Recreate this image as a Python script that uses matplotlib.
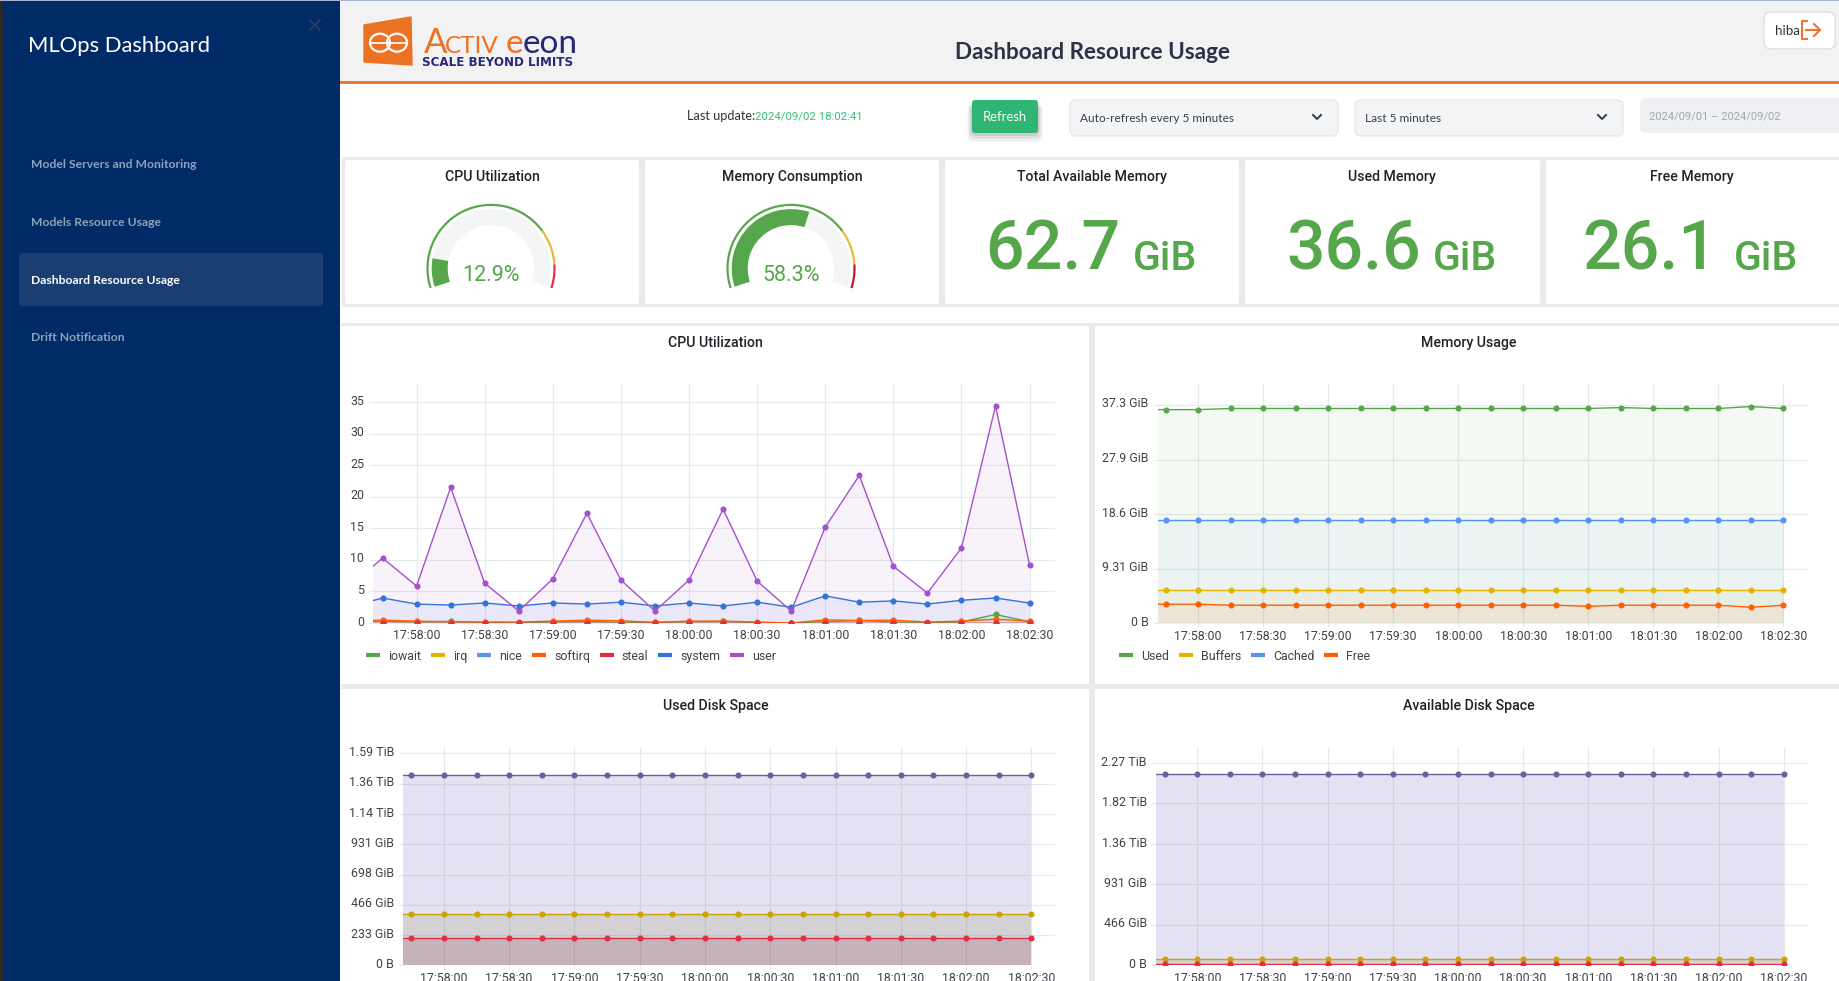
"""MLOps dashboard screenshot: resource usage page, drawn with matplotlib."""
import matplotlib
matplotlib.use("Agg")
import matplotlib.pyplot as plt
import numpy as np
from matplotlib.lines import Line2D
from matplotlib.patches import Ellipse, FancyBboxPatch, Polygon, Rectangle, Wedge
from matplotlib.transforms import ScaledTranslation

W, H = 1839, 981
UI_FONT = "Lato"
PANEL_FONT = "Roboto"

# seconds relative to 17:58:00, first sample sits left of the visible range
seconds = np.arange(-30, 285, 15)
time_ticks = np.arange(0, 285, 30)
time_labels = ["17:58:00", "17:58:30", "17:59:00", "17:59:30", "18:00:00",
               "18:00:30", "18:01:00", "18:01:30", "18:02:00", "18:02:30"]

cpu_iowait = [0.2, 0.3, 0.15, 0.25, 0.1, 0.05, 0.15, 0.25, 0.1, 0.1, 0.2, 0.25, 0.05, 0.0, 0.2, 0.4, 0.15, 0.05, 0.15, 1.35, 0.2]
cpu_irq = [0.0] * 21
cpu_nice = [0.0] * 21
cpu_softirq = [0.3, 0.45, 0.3, 0.2, 0.15, 0.15, 0.3, 0.45, 0.35, 0.1, 0.3, 0.3, 0.15, 0.0, 0.5, 0.4, 0.45, 0.15, 0.3, 0.6, 0.3]
cpu_steal = [0.0] * 21
cpu_system = [2.5, 3.96, 3.0, 2.85, 3.17, 2.7, 3.17, 3.0, 3.3, 2.7, 3.17, 2.7, 3.3, 2.5, 4.3, 3.3, 3.5, 3.0, 3.6, 3.96, 3.17]
cpu_user = [5.6, 10.3, 5.86, 21.5, 6.3, 1.9, 7.0, 17.4, 6.8, 1.9, 6.8, 18.05, 6.65, 1.9, 15.2, 23.4, 9.0, 4.75, 11.9, 34.4, 9.2]
cpu_ticks = [0, 5, 10, 15, 20, 25, 30, 35]
cpu_tick_labels = ["0", "5", "10", "15", "20", "25", "30", "35"]

mem_used = [36.5, 36.5, 36.5, 36.7, 36.7, 36.7, 36.7, 36.7, 36.7, 36.7, 36.7, 36.7, 36.7, 36.7, 36.7, 36.85, 36.7, 36.7, 36.7, 37.03, 36.7]
mem_buffers = [5.66] * 21
mem_cached = [17.66] * 21
mem_free = [3.26, 3.26, 3.26, 3.09, 3.09, 3.09, 3.09, 3.09, 3.09, 3.09, 3.09, 3.09, 3.09, 3.09, 2.91, 3.09, 3.09, 3.09, 3.09, 2.74, 3.09]
mem_ticks = [0, 9.31, 18.6, 27.9, 37.3]
mem_tick_labels = ["0 B", "9.31 GiB", "18.6 GiB", "27.9 GiB", "37.3 GiB"]

used_disk_a = [1462] * 21
used_disk_b = [392] * 21
used_disk_c = [208] * 21
used_ticks = [0, 233, 466, 698, 931, 1164, 1396, 1630]
used_tick_labels = ["0 B", "233 GiB", "466 GiB", "698 GiB", "931 GiB", "1.14 TiB", "1.36 TiB", "1.59 TiB"]

avail_disk_a = [2203] * 21
avail_disk_b = [69] * 21
avail_disk_c = [11.5] * 21
avail_ticks = [0, 466, 931, 1396, 1864, 2327]
avail_tick_labels = ["0 B", "466 GiB", "931 GiB", "1.36 TiB", "1.82 TiB", "2.27 TiB"]

GREEN = "#56a64b"
YELLOW = "#e0b400"
LBLUE = "#5794f2"
ORANGE = "#ff5f00"
RED = "#e02f44"
BLUE = "#3274d9"
PURPLE = "#a352cc"
GRID = "#e8e9ea"
TICK_TEXT = "#3e4349"

menu_items = ["Model Servers and Monitoring", "Models Resource Usage", "Dashboard Resource Usage", "Drift Notification"]
gauge_values = [12.9, 58.3]
gauge_reds = ["#e02f44", "#c4162a"]

fig = plt.figure(figsize=((W + 0.01) / 100, (H + 0.01) / 100), dpi=100, facecolor="white")

# whole-page axes in pixel coordinates for the page furniture
page = fig.add_axes([0, 0, 1, 1])
page.set_xlim(0, W)
page.set_ylim(H, 0)
page.axis("off")


def rect(x0, y0, x1, y1, color, z=1):
    page.add_patch(Rectangle((x0, y0), x1 - x0, y1 - y0, fc=color, ec="none", zorder=z))


def rounded(x0, y0, x1, y1, fc, ec="none", r=4, z=2, alpha=None, lw=1):
    page.add_patch(FancyBboxPatch((x0, y0), x1 - x0, y1 - y0, boxstyle=f"round,pad=0,rounding_size={r}",
                                  fc=fc, ec=ec, lw=lw, zorder=z, alpha=alpha))


def label(x, y, s, size, color="#222222", ha="center", family=UI_FONT, weight="normal", va="center"):
    return page.text(x, y, s, fontsize=size, color=color, ha=ha, va=va, family=family, fontweight=weight, zorder=6)


# sidebar
rect(0, 0, 340, H, "#002b66")
rect(0, 0, 3, H, "#2b2a28", z=2)
rect(0, 0, W, 1, "#a9b6d3", z=3)
label(28, 46, "MLOps Dashboard", 15.8, "white", ha="left")
rounded(19, 253, 323, 306, "#1a3e72", r=4)
for name, y in zip(menu_items, [164, 222, 280, 337]):
    active = name == "Dashboard Resource Usage"
    label(31, y, name, 8.75, "white" if active else "#8da2bd", ha="left", weight="bold")
page.plot([310, 320], [20, 30], color="#2f3f5d", lw=1.2, zorder=3)
page.plot([310, 320], [30, 20], color="#2f3f5d", lw=1.2, zorder=3)

# header strip
rect(340, 1, W, 81, "#f2f2f2")
rect(340, 81, W, 84, "#ee7430")
page.add_patch(Polygon([(364, 25), (411, 17), (412, 65), (364, 62)], closed=True, fc="#ec7122", ec="#ec7122", lw=1, joinstyle="round", zorder=3))
for cx in (380, 397):
    page.add_patch(Ellipse((cx, 42.7), 20, 18, fc="none", ec="white", lw=1.6, zorder=4))
page.plot([370, 407], [42.7, 42.7], color="white", lw=1.3, zorder=4)
label(424, 53, "A", 25, "#ec7122", ha="left", va="baseline")
label(445, 53, "CTIV", 17.5, "#ec7122", ha="left", va="baseline")
label(506, 53, "e", 24, "#ec7122", ha="left", va="baseline")
label(523, 53, "eon", 24, "#27287b", ha="left", va="baseline")
label(422, 62.5, "SCALE BEYOND LIMITS", 8.6, "#27287b", ha="left", family="DejaVu Sans", weight="bold")
label(1092, 52, "Dashboard Resource Usage", 16.2, "#2b3245", weight="bold")

# logout button
rounded(1764, 12, 1835, 49, "white", ec="#dcdfe3", r=7)
label(1787, 31, "hiba", 9.6, "#333333")
page.plot([1807, 1802, 1802, 1807], [21, 21, 39, 39], color="#ee7430", lw=1.5, zorder=4)
page.plot([1806, 1820], [30, 30], color="#ee7430", lw=1.5, zorder=4)
page.plot([1814, 1820, 1814], [24, 30, 36], color="#ee7430", lw=1.5, zorder=4)

# toolbar
label(687, 116, "Last update:", 9.2, "#333333", ha="left")
label(755, 116, "2024/09/02 18:02:41", 8.2, "#35c07c", ha="left", family=PANEL_FONT)
for grow, a in zip((9, 6, 3), (0.05, 0.07, 0.09)):
    rounded(972 - grow * 0.5, 104, 1038 + grow * 0.5, 133 + grow, "#000000", r=6, alpha=a, z=2)
rounded(972, 100, 1038, 133, "#2fb574", r=3, z=3)
label(1005, 117, "Refresh", 9.4, "white")
rounded(1070, 100, 1338, 136, "#f4f5f6", ec="#e6e8ea", r=6)
label(1080, 118, "Auto-refresh every 5 minutes", 8.6, "#3b3f46", ha="left")
rounded(1355, 100, 1623, 136, "#f4f5f6", ec="#e6e8ea", r=6)
label(1365, 118, "Last 5 minutes", 8.6, "#3b3f46", ha="left")
for cx in (1317, 1602):
    page.plot([cx - 4, cx, cx + 4], [115, 119, 115], color="#333a44", lw=1.4, zorder=4)
rounded(1640, 98, 1860, 133, "#eef0f3", r=6)
label(1649, 116, "2024/09/01 – 2024/09/02", 8.1, "#a3a7ad", ha="left", family=PANEL_FONT)

# grey gutters behind the stat cards and panels
rect(342, 157, W, 307, "#e8ebee")
rect(341, 323, W, H, "#e8ebee")

card_edges = [(345, 639), (645, 939), (945, 1239), (1245, 1540), (1546, 1860)]
card_titles = ["CPU Utilization", "Memory Consumption", "Total Available Memory", "Used Memory", "Free Memory"]
card_centers = [492, 792, 1092, 1392, 1692]
for (x0, x1), title, cx in zip(card_edges, card_titles, card_centers):
    rounded(x0, 160, x1, 304, "white", r=2)
    label(cx, 177, title, 10.2, "#1f2329", family=PANEL_FONT, weight="medium")


def gauge(cx, value, red):
    cy = 268.4
    start, sweep = 198.0, 216.0
    to_angle = lambda pct: start - sweep * pct / 100.0
    # wedge angles run the other way because the page y axis points down
    page.add_patch(Wedge((cx, cy), 59.3, -to_angle(0), -to_angle(100), width=16, fc="#f4f5f5", ec="none", zorder=3))
    page.add_patch(Wedge((cx, cy), 59.3, -to_angle(0), -to_angle(value), width=16, fc=GREEN, ec="none", zorder=4))
    for lo, hi, col in [(0, 75, GREEN), (75, 90, "#eab839"), (90, 100, red)]:
        page.add_patch(Wedge((cx, cy), 64.6, -to_angle(lo), -to_angle(hi), width=2.2, fc=col, ec="none", zorder=4))
    label(cx, 275, f"{value}%", 15.5, GREEN, family=PANEL_FONT)


for cx, v, red in zip((491, 791), gauge_values, gauge_reds):
    gauge(cx, v, red)

big_values = ["62.7", "36.6", "26.1"]
big_right = [1120, 1421, 1717]
unit_left = [1133, 1433, 1734]
for s, xr, xl in zip(big_values, big_right, unit_left):
    label(xr, 269.5, s, 49, GREEN, ha="right", family=PANEL_FONT, weight="medium", va="baseline")
    label(xl, 269.5, "GiB", 29.5, GREEN, ha="left", family=PANEL_FONT, weight="medium", va="baseline")

# chart panels
rect(341, 326, 1089, 684, "white")
rect(1095, 326, W, 684, "white")
rect(341, 689, 1089, H, "white")
rect(1095, 689, W, H, "white")

label_lift = ScaledTranslation(0, 2.5 / 100, fig.dpi_scale_trans)


def chart(box, xlim, ylim, ticks, tick_labels, series, fill_alpha, title, title_xy, legend_xy=None):
    x0, y0, x1, y1 = box
    ax = fig.add_axes([x0 / W, 1 - y1 / H, (x1 - x0) / W, (y1 - y0) / H], facecolor="none")
    ax.set_zorder(5)
    for name, values, color, fill_color in series:
        ax.fill_between(seconds, 0, values, color=fill_color, alpha=fill_alpha, lw=0)
        ax.plot(seconds, values, color=color, lw=1.0, marker="o", ms=4.4, mew=0, label=name)
    ax.set_xlim(*xlim)
    ax.set_ylim(*ylim)
    ax.set_xticks(time_ticks)
    ax.set_xticklabels(time_labels)
    ax.set_yticks(ticks)
    ax.set_yticklabels(tick_labels)
    ax.grid(True, color=GRID, lw=0.85)
    ax.set_axisbelow(True)
    ax.tick_params(axis="both", length=3, width=0.8, color=GRID, labelsize=8.9, labelcolor=TICK_TEXT, pad=3.5)
    ax.tick_params(axis="x", pad=1.5)
    for t in ax.get_xticklabels() + ax.get_yticklabels():
        t.set_family(PANEL_FONT)
    for t in ax.get_yticklabels():
        t.set_transform(t.get_transform() + label_lift)
    for sp in ax.spines.values():
        sp.set_visible(False)
    label(title_xy[0], title_xy[1], title, 10.2, "#1f2329", family=PANEL_FONT, weight="medium")
    if legend_xy is not None:
        handles = [Line2D([], [], color=s[2], lw=3, solid_capstyle="butt") for s in series]
        names = [s[0] for s in series]
        leg = fig.legend(handles, names, loc="center left", frameon=False, ncol=len(series),
                         bbox_to_anchor=(legend_xy[0] / W, 1 - legend_xy[1] / H), borderaxespad=0, borderpad=0,
                         handlelength=1.15, handletextpad=0.65, columnspacing=0.78,
                         prop={"family": PANEL_FONT, "size": 8.9})
        for t in leg.get_texts():
            t.set_color(TICK_TEXT)
    return ax


cpu_series = [("iowait", cpu_iowait, GREEN, GREEN), ("irq", cpu_irq, YELLOW, YELLOW), ("nice", cpu_nice, LBLUE, LBLUE),
              ("softirq", cpu_softirq, ORANGE, ORANGE), ("steal", cpu_steal, RED, RED), ("system", cpu_system, BLUE, BLUE),
              ("user", cpu_user, PURPLE, PURPLE)]
mem_series = [("Used", mem_used, GREEN, GREEN), ("Buffers", mem_buffers, YELLOW, YELLOW),
              ("Cached", mem_cached, LBLUE, LBLUE), ("Free", mem_free, ORANGE, ORANGE)]
# the lower fills lean grey in the screenshot and the top one bluer, so they get their own fill colours
used_series = [("a", used_disk_a, "#705da0", "#5d50b0"), ("b", used_disk_b, "#cca300", "#7f7a38"), ("c", used_disk_c, "#e02f44", "#851435")]
avail_series = [("a", avail_disk_a, "#705da0", "#5d50b0"), ("b", avail_disk_b, "#cca300", "#7f7a38"), ("c", avail_disk_c, "#e02f44", "#851435")]

chart((373, 383.3, 1055, 623), (-19.2, 281.2), (0, 38), cpu_ticks, cpu_tick_labels, cpu_series, 0.075,
      "CPU Utilization", (715.6, 343), legend_xy=(366, 656))
chart((1157.6, 383.3, 1807.7, 623.3), (-18.7, 281.2), (0, 41), mem_ticks, mem_tick_labels, mem_series, 0.058,
      "Memory Usage", (1468.4, 343), legend_xy=(1119, 656))
chart((403.2, 747.3, 1054.8, 965.3), (-18.7, 280.8), (0, 1631 * (965.3 - 747.3) / (965.3 - 753.3)), used_ticks, used_tick_labels,
      used_series, 0.16, "Used Disk Space", (715.6, 706))
chart((1156, 747.3, 1807.7, 965.3), (-19, 281), (0, 2327 * (965.3 - 747.3) / (965.3 - 763.3)), avail_ticks, avail_tick_labels,
      avail_series, 0.16, "Available Disk Space", (1468.4, 706))

fig.savefig("out.png", dpi=100)
plt.close(fig)
